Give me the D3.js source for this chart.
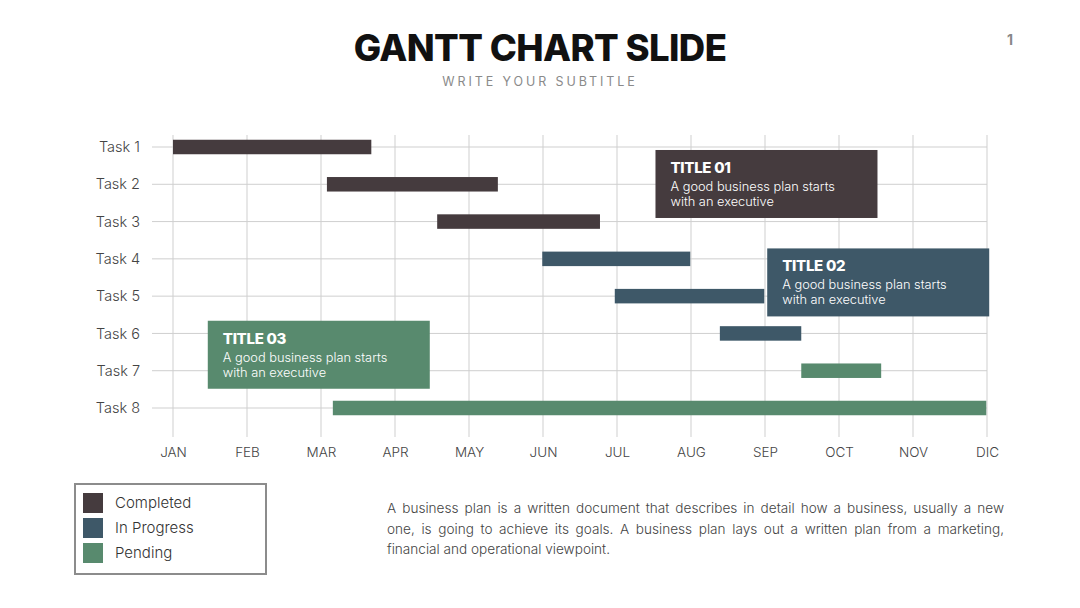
<!DOCTYPE html>
<html>
<head>
<meta charset="utf-8">
<script src="https://cdn.jsdelivr.net/npm/d3@7"></script>
<style>
  body { margin: 0; background: #fff; }
  #slide { position: relative; width: 1080px; height: 608px; overflow: hidden; font-family: "Inter", "Noto Sans", sans-serif; }
  #note {
    position: absolute; left: 387px; top: 498px; width: 617px;
    font-size: 13.6px; line-height: 20.5px; color: #444; font-weight: 300;
  }
  #note div { white-space: nowrap; text-align: justify; text-align-last: justify; }
  #note div:last-child { text-align-last: left; }
</style>
</head>
<body>
<div id="slide">
  <svg id="chart" width="1080" height="608"></svg>
  <div id="note"></div>
</div>
<script>
// --- data (months: 0 = JAN ... 11 = DIC) ---
var tasks = ["Task 1", "Task 2", "Task 3", "Task 4", "Task 5", "Task 6", "Task 7", "Task 8"];
var taskStart = [0, 2.08, 3.57, 4.99, 5.97, 7.39, 8.49, 2.16];
var taskEnd   = [2.68, 4.39, 5.77, 6.99, 7.99, 8.49, 9.57, 10.99];
var taskStatus = ["Completed", "Completed", "Completed", "In Progress", "In Progress", "In Progress", "Pending", "Pending"];
var months = ["JAN", "FEB", "MAR", "APR", "MAY", "JUN", "JUL", "AUG", "SEP", "OCT", "NOV", "DIC"];
var statuses = ["Completed", "In Progress", "Pending"];
var statusColors = ["#453b3e", "#3e5868", "#588a6e"];

// callout boxes: status index, top-left in (month, task row) terms
var calloutTitles = ["TITLE 01", "TITLE 02", "TITLE 03"];
var calloutStatus = [0, 1, 2];
var calloutMonth = [6.52, 8.03, 0.47];
var calloutRow = [0.08, 2.72, 4.66];

// paragraph under the chart, one entry per printed line
var noteLines = [
    "A business plan is a written document that describes in detail how a business, usually a new",
    "one, is going to achieve its goals. A business plan lays out a written plan from a marketing,",
    "financial and operational viewpoint."
];

var svg = d3.select("#chart");

var color = d3.scaleOrdinal().domain(statuses).range(statusColors);

var x = d3.scaleLinear().domain([0, 11]).range([173, 987]);
var y = d3.scalePoint().domain(tasks).range([147, 408]);

// title
svg.append("text")
    .attr("x", 540).attr("y", 61)
    .attr("text-anchor", "middle")
    .style("font-family", "Inter, 'Noto Sans', sans-serif")
    .style("font-weight", 800)
    .style("font-size", "36.5px")
    .style("letter-spacing", "-0.6px")
    .attr("fill", "#111")
    .text("GANTT CHART SLIDE");

svg.append("text")
    .attr("x", 540).attr("y", 86)
    .attr("text-anchor", "middle")
    .style("font-size", "12.5px")
    .style("letter-spacing", "2.9px")
    .attr("fill", "#8a8a8a")
    .text("WRITE YOUR SUBTITLE");

svg.append("text")
    .attr("x", 1010).attr("y", 45)
    .attr("text-anchor", "middle")
    .style("font-size", "14px")
    .style("font-weight", 700)
    .attr("fill", "#888")
    .text("1");

// grid
var grid = svg.append("g");
grid.selectAll("line.v")
    .data(months)
    .enter().append("line")
    .attr("class", "v")
    .attr("x1", function(d, i) { return x(i); })
    .attr("x2", function(d, i) { return x(i); })
    .attr("y1", 135).attr("y2", 437)
    .attr("stroke", "#cfcfcf").attr("stroke-width", 1);

grid.selectAll("line.h")
    .data(tasks)
    .enter().append("line")
    .attr("class", "h")
    .attr("x1", 152).attr("x2", x(11))
    .attr("y1", function(d) { return y(d); })
    .attr("y2", function(d) { return y(d); })
    .attr("stroke", "#cfcfcf").attr("stroke-width", 1);

// axes labels
var xAxis = d3.axisBottom(x)
    .tickValues(d3.range(months.length))
    .tickFormat(function(d) { return months[d]; })
    .tickSize(0).tickPadding(0);
var gx = svg.append("g").attr("transform", "translate(0,447)").call(xAxis);
gx.select(".domain").remove();
gx.selectAll("text")
    .style("font-family", "Inter, 'Noto Sans', sans-serif")
    .style("font-size", "13.5px")
    .style("font-weight", 300)
    .attr("fill", "#444");

var yAxis = d3.axisLeft(y).tickSize(0).tickPadding(0);
var gy = svg.append("g").attr("transform", "translate(140,0)").call(yAxis);
gy.select(".domain").remove();
gy.selectAll("text")
    .style("font-family", "Inter, 'Noto Sans', sans-serif")
    .style("font-size", "14.5px")
    .style("font-weight", 300)
    .attr("fill", "#444");

// bars
var barH = 14.5;
svg.append("g").selectAll("rect")
    .data(tasks)
    .enter().append("rect")
    .attr("x", function(d, i) { return x(taskStart[i]); })
    .attr("width", function(d, i) { return x(taskEnd[i]) - x(taskStart[i]); })
    .attr("y", function(d) { return y(d) - barH / 2; })
    .attr("height", barH)
    .attr("fill", function(d, i) { return color(taskStatus[i]); });

// callouts
var step = y.step();
var callouts = svg.append("g").selectAll("g")
    .data(calloutTitles)
    .enter().append("g")
    .attr("transform", function(d, i) {
        return "translate(" + x(calloutMonth[i]) + "," + (y.range()[0] + calloutRow[i] * step) + ")";
    });

callouts.append("rect")
    .attr("width", 222).attr("height", 68)
    .attr("fill", function(d, i) { return statusColors[calloutStatus[i]]; });

callouts.append("text")
    .attr("x", 15).attr("y", 23)
    .style("font-weight", 800).style("font-size", "15px")
    .style("letter-spacing", "-0.3px")
    .attr("fill", "#fff")
    .text(function(d) { return d; });

callouts.append("text")
    .attr("x", 15).attr("y", 41)
    .style("font-size", "12.8px").style("font-weight", 300)
    .attr("fill", "#fff")
    .text("A good business plan starts");

callouts.append("text")
    .attr("x", 15).attr("y", 56)
    .style("font-size", "12.8px").style("font-weight", 300)
    .attr("fill", "#fff")
    .text("with an executive");

// legend
var legend = svg.append("g").attr("transform", "translate(75,484)");
legend.append("rect")
    .attr("width", 191).attr("height", 90)
    .attr("fill", "none").attr("stroke", "#8c8c8c").attr("stroke-width", 2);

var items = legend.selectAll("g.item")
    .data(statuses)
    .enter().append("g")
    .attr("class", "item")
    .attr("transform", function(d, i) { return "translate(8," + (9 + i * 25) + ")"; });

items.append("rect")
    .attr("width", 20).attr("height", 20)
    .attr("fill", function(d) { return color(d); });

items.append("text")
    .attr("x", 32).attr("y", 15)
    .style("font-size", "15px").style("font-weight", 300)
    .attr("fill", "#333")
    .text(function(d) { return d; });

// paragraph
d3.select("#note").selectAll("div")
    .data(noteLines)
    .enter().append("div")
    .text(function(d) { return d; });
</script>
</body>
</html>
